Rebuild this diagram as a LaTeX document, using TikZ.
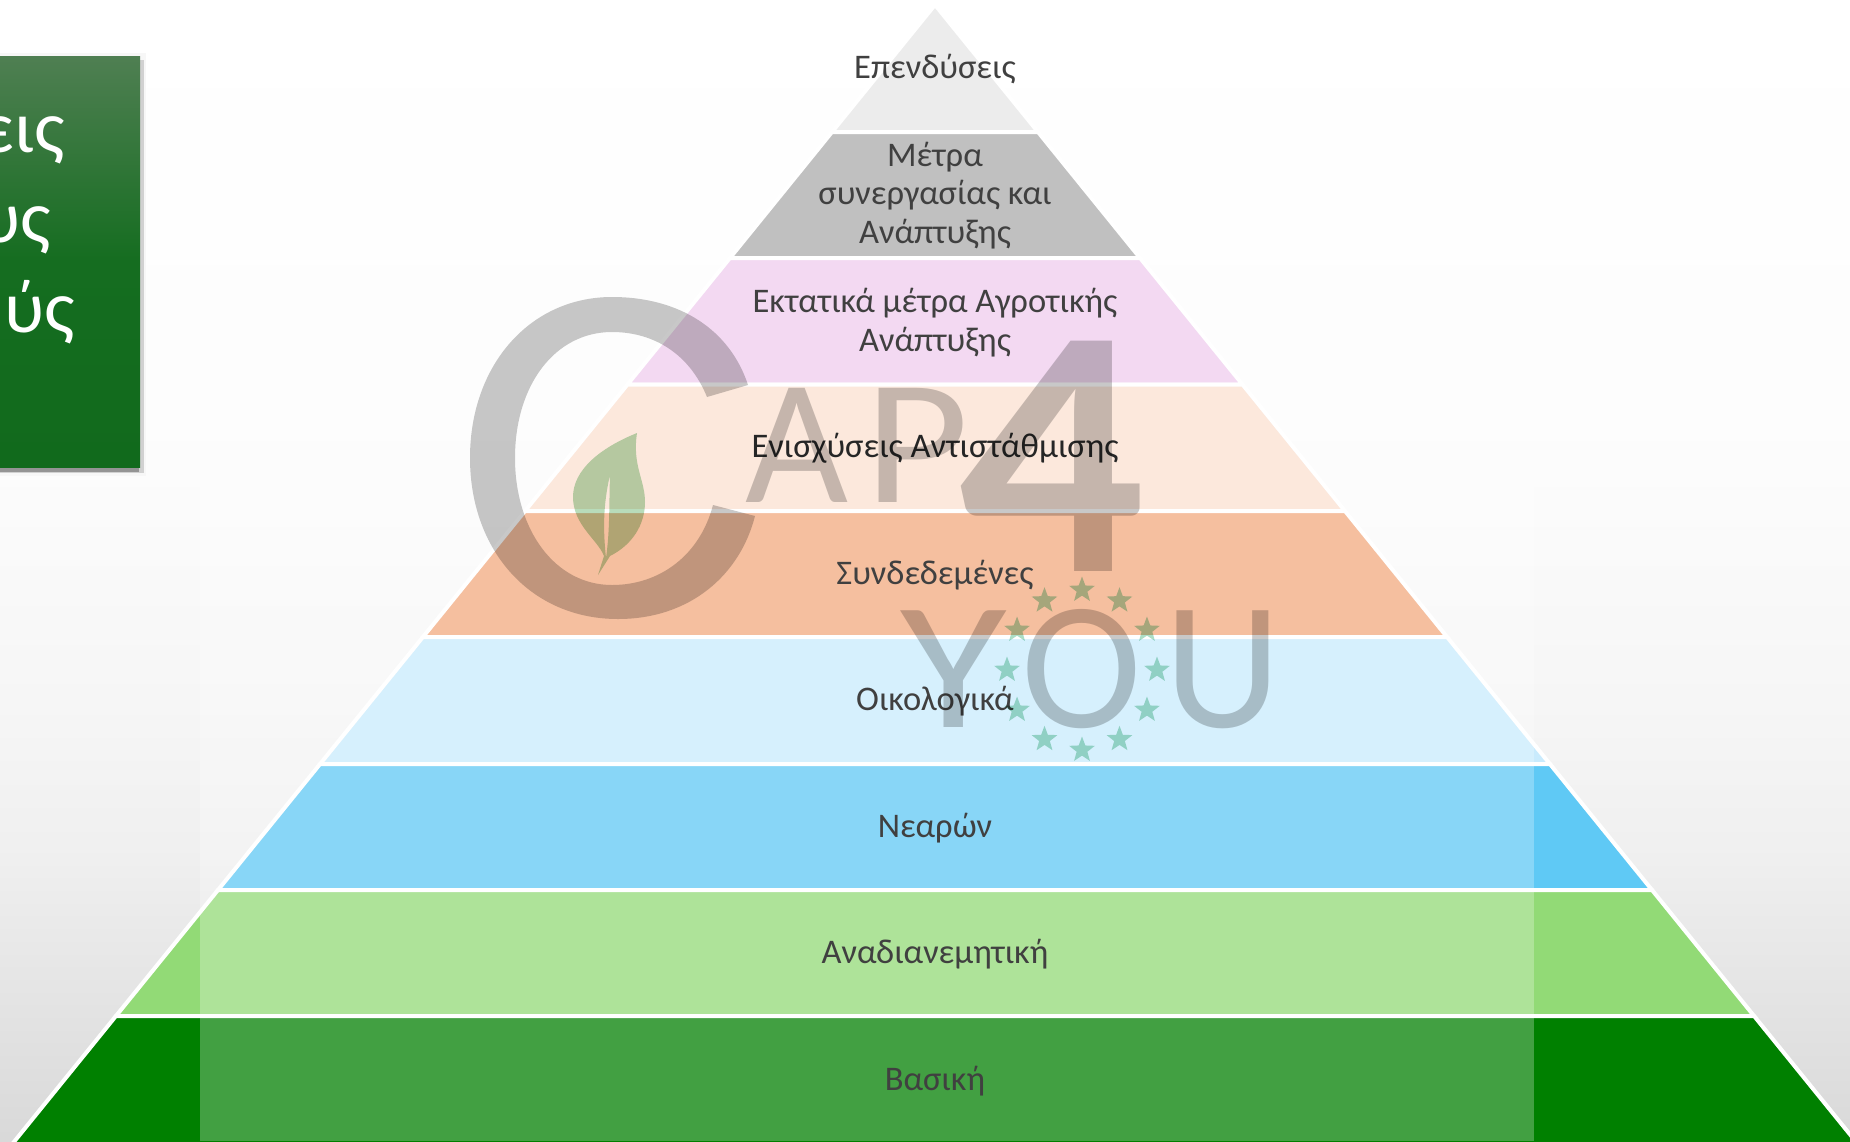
\documentclass[tikz,border=0pt]{standalone}
\usepackage{fontspec}
\setmainfont{Carlito}
\usetikzlibrary{shapes.geometric}
\definecolor{bandA}{HTML}{E6E6E6}
\definecolor{bandB}{HTML}{ABABAB}
\definecolor{bandC}{HTML}{EFCDEE}
\definecolor{bandD}{HTML}{FBE0D1}
\definecolor{bandE}{HTML}{F2A97E}
\definecolor{bandF}{HTML}{C9EBFD}
\definecolor{bandG}{HTML}{5FC9F5}
\definecolor{bandH}{HTML}{92DA76}
\definecolor{bandI}{HTML}{008000}
\definecolor{logogray}{HTML}{C8C8C8}
\definecolor{logoleaf}{HTML}{B8DCBA}
\definecolor{logostar}{HTML}{ACDEC6}
\definecolor{labeltext}{HTML}{404040}
\pgfdeclareverticalshading{slidebg}{100bp}{color(0bp)=(black!15); color(25bp)=(black!15); color(37.75bp)=(black!6); color(44.3bp)=(black!3.5); color(55.3bp)=(black!1); color(75bp)=(white); color(100bp)=(white)}
\definecolor{boxtop}{HTML}{4F7F52}
\definecolor{boxmid}{HTML}{156D20}
\definecolor{boxlow}{HTML}{116A1C}
\pgfdeclareverticalshading{boxgreen}{100bp}{color(0bp)=(boxlow); color(25bp)=(boxlow); color(50bp)=(boxmid); color(75bp)=(boxtop); color(100bp)=(boxtop)}

\begin{document}
\begin{tikzpicture}[x=1pt,y=-1pt]
\tikzstyle{band}=[draw=white, line width=4pt, line join=miter]
\tikzstyle{tier}=[anchor=base, align=center, inner sep=0pt, text=labeltext, font=\fontsize{34.5}{38.3}\selectfont]
\tikzstyle{boxtext}=[anchor=base east, inner sep=0pt, text=white, font=\fontsize{74}{90}\selectfont]
\tikzstyle{logotext}=[inner sep=0pt, text=logogray]
\tikzstyle{eustar}=[star, star points=5, star point ratio=2.4, fill=logostar, minimum size=27pt, inner sep=0pt]
\useasboundingbox (0,0) rectangle (1850,1141);
\shade[shading=slidebg] (0,0) rectangle (1850,1141);

	% green box at the left, cut by the page
	\fill[black!3] (-10,53) rectangle (146,476);
	\fill[black!18] (-10,60) rectangle (143.5,473);
	\fill[black!42] (-10,467) rectangle (139,471.5);
	\shade[shading=boxgreen] (-10,56) rectangle (140,467);
	\node[boxtext] (box_1) at (65,152) {εις};
	\node[boxtext] (box_2) at (51,242) {υς};
	\node[boxtext] (box_3) at (75,332) {ύς};

	% pyramid, top to bottom
	\foreach \ytop/\ybot/\col in {4.8/132/bandA, 132/258/bandB, 258/384.5/bandC, 384.5/511/bandD, 511/637/bandE, 637/764/bandF, 764/890/bandG, 890/1016/bandH, 1016/1160/bandI}{
		\pgfmathsetmacro{\wtop}{0.81*(\ytop-4.8)}
		\pgfmathsetmacro{\wbot}{0.81*(\ybot-4.8)}
		\draw[band, fill=\col] (935-\wtop,\ytop) -- (935+\wtop,\ytop) -- (935+\wbot,\ybot) -- (935-\wbot,\ybot) -- cycle;
	}
	% pale sheet of the logo picture
	\fill[white, opacity=0.26] (200,0) rectangle (1534,1141);

	\node[tier] (t_1) at (935,78) {Επενδύσεις};
	\node[tier] (t_2) at (935,243) {Μέτρα\\συνεργασίας και\\Ανάπτυξης};
	\node[tier] (t_3) at (935,351) {Εκτατικά μέτρα Αγροτικής\\Ανάπτυξης};
	\node[tier, text=black!85] (t_4) at (935,457.5) {Ενισχύσεις Αντιστάθμισης};
	\node[tier] (t_5) at (935,584.5) {Συνδεδεμένες};
	\node[tier] (t_6) at (935,710.5) {Οικολογικά};
	\node[tier] (t_7) at (935,837) {Νεαρών};
	\node[tier] (t_8) at (935,963.5) {Αναδιανεμητική};
	\node[tier] (t_9) at (935,1090) {Βασική};

	% logo
	\begin{scope}[blend mode=multiply]
	\fill[logogray] (748,385) .. controls (730,330) and (680,297) .. (612,297)
		.. controls (530,297) and (470,365) .. (470,458)
		.. controls (470,550) and (530,619) .. (618,619)
		.. controls (690,619) and (740,575) .. (755,516)
		-- (713,505) .. controls (700,555) and (660,585) .. (612,585)
		.. controls (555,585) and (515,530) .. (515,458)
		.. controls (515,385) and (555,332) .. (612,332)
		.. controls (655,332) and (690,355) .. (707,397) -- cycle;
	\fill[logoleaf, even odd rule] (637,433) .. controls (600,448) and (573,470) .. (573,497)
		.. controls (573,525) and (598,540) .. (604,556) -- (598,575)
		-- (610,556) .. controls (632,545) and (645,525) .. (645,502)
		.. controls (645,480) and (632,465) .. (637,433) -- cycle
		(610,475) .. controls (603,505) and (603,530) .. (606,558)
		.. controls (610,530) and (609,505) .. (610,475) -- cycle;
	\node[logotext, anchor=base west, font=\fontsize{178}{178}\selectfont] (cap) at (745,502) {A\kern16pt\scalebox{1.14}[1]{P}};
	\node[logotext, anchor=base west, font=\bfseries\fontsize{355}{355}\selectfont] (four) at (958,571) {\scalebox{1.04}[1]{4}};
	\node[logotext, anchor=base west, font=\fontsize{182}{182}\selectfont] (you) at (900,727) {\scalebox{1.2}[1]{Y}\kern14.5pt O\kern23pt U};
	\foreach \a in {0,30,...,330}
		\node[eustar] (s\a) at ({1082+75*cos(\a)},{670+80*sin(\a)}) {};
	\end{scope}
\end{tikzpicture}
\end{document}
